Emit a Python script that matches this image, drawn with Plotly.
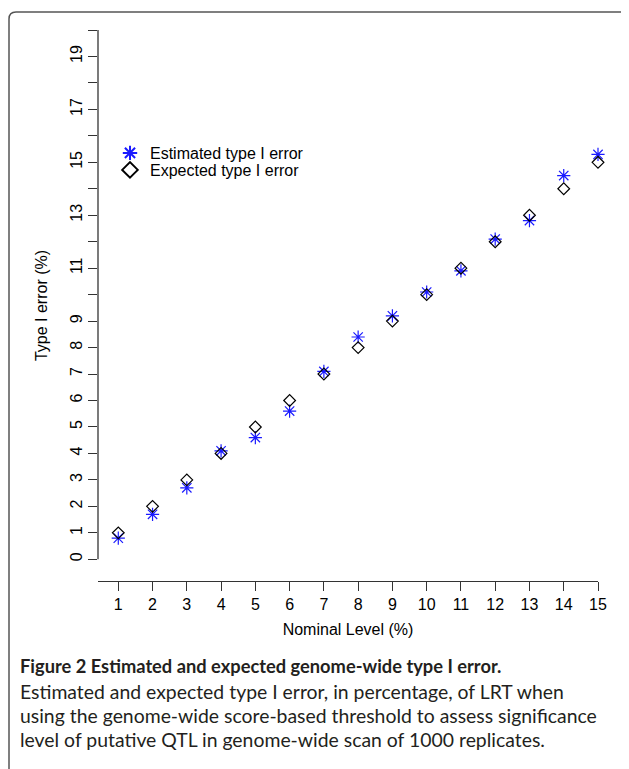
import plotly.graph_objects as go

nominal = [1, 2, 3, 4, 5, 6, 7, 8, 9, 10, 11, 12, 13, 14, 15]
estimated = [0.8, 1.7, 2.7, 4.1, 4.6, 5.6, 7.1, 8.4, 9.2, 10.1, 10.9, 12.1, 12.8, 14.5, 15.3]
expected = [1, 2, 3, 4, 5, 6, 7, 8, 9, 10, 11, 12, 13, 14, 15]

y_tickvals = list(range(0, 21))
y_ticktext = ["0", "1", "2", "3", "4", "5", "6", "7", "8", "9", "", "11", "", "13", "", "15", "", "17", "", "19", ""]
x_tickvals = nominal
x_ticktext = [str(v) for v in nominal]

OFF = 8  # page body margin
W, H = 629 - OFF, 769 - OFF
L, R, T, B = 98 - OFF, 598 - OFF, 30 - OFF, 581 - OFF  # plot area in figure pixels

FONT = "Liberation Sans, Arial, sans-serif"
CAP_FONT = "Lato, Open Sans, sans-serif"
FS = 16

fig = go.Figure()
fig.add_trace(go.Scatter(
    x=nominal, y=estimated, mode="markers", name="Estimated type I error",
    marker=dict(symbol="asterisk-open", size=11, color="#1a1aff",
                line=dict(color="#1a1aff", width=1.2)),
    cliponaxis=False, legend="legend"))
fig.add_trace(go.Scatter(
    x=nominal, y=expected, mode="markers", name="Expected type I error",
    marker=dict(symbol="diamond-open", size=9, color="black",
                line=dict(color="black", width=1.2)),
    cliponaxis=False, legend="legend2"))

def px2paper_x(px):
    return (px - OFF - L) / (R - L)

def px2paper_y(py):
    return (B - (py - OFF)) / (B - T)

# figure frame (rounded top-left corner), given in screen pixels
xl, yt, xr, yb, r = 9, 12, 660, 800, 7
path = (f"M {px2paper_x(xl)},{px2paper_y(yb)} L {px2paper_x(xl)},{px2paper_y(yt + r)} "
        f"Q {px2paper_x(xl)},{px2paper_y(yt)} {px2paper_x(xl + r)},{px2paper_y(yt)} "
        f"L {px2paper_x(xr)},{px2paper_y(yt)}")
shapes = [
    dict(type="path", path=path, xref="paper", yref="paper",
         line=dict(color="#555555", width=1.5)),
    dict(type="line", xref="paper", yref="y", x0=0, x1=0, y0=0, y1=20,
         line=dict(color="#333333", width=1.3)),
]

x0 = 1 - (118.3 - 98) / 34.286
leg_common = dict(xanchor="left", yanchor="middle", bgcolor="rgba(0,0,0,0)",
                  font=dict(size=FS, family=FONT, color="black"), itemsizing="constant")
fig.update_layout(
    width=W, height=H,
    margin=dict(l=L, r=W - R, t=T, b=H - B, pad=0),
    paper_bgcolor="white", plot_bgcolor="white",
    font=dict(family=FONT, size=FS, color="black"),
    showlegend=True,
    legend=dict(x=px2paper_x(110), y=px2paper_y(153), **leg_common),
    legend2=dict(x=px2paper_x(110), y=px2paper_y(170), **leg_common),
    xaxis=dict(range=[x0, 15], tickvals=x_tickvals, ticktext=x_ticktext,
               showgrid=False, zeroline=False, showline=True, linecolor="#333333",
               linewidth=1.3, ticks="outside", ticklen=9, tickcolor="#333333",
               tickwidth=1.2, tickfont=dict(size=FS),
               title=dict(text="Nominal Level (%)", font=dict(size=FS), standoff=11)),
    yaxis=dict(range=[-0.82, 20], tickvals=y_tickvals, ticktext=y_ticktext,
               showgrid=False, zeroline=False, showline=False,
               ticks="outside", ticklen=9, tickcolor="#333333", tickwidth=1.2,
               tickangle=-90, tickfont=dict(size=FS),
               title=dict(text="Type I error (%)", font=dict(size=FS), standoff=15)),
    shapes=shapes,
)

cap_lines = [
    ("<b>Figure 2 Estimated and expected genome-wide type I error.</b>", 666, 18.3),
    ("Estimated and expected type I error, in percentage, of LRT when", 691.5, 19.4),
    ("using the genome-wide score-based threshold to assess significance", 715.5, 19.4),
    ("level of putative QTL in genome-wide scan of 1000 replicates.", 739.5, 19.4),
]
for txt, py, fs in cap_lines:
    fig.add_annotation(text=txt, xref="paper", yref="paper",
                       x=px2paper_x(18), y=px2paper_y(py), xanchor="left", yanchor="middle",
                       showarrow=False, font=dict(family=CAP_FONT, size=fs, color="#231f20"))

fig.write_html("out.html")
